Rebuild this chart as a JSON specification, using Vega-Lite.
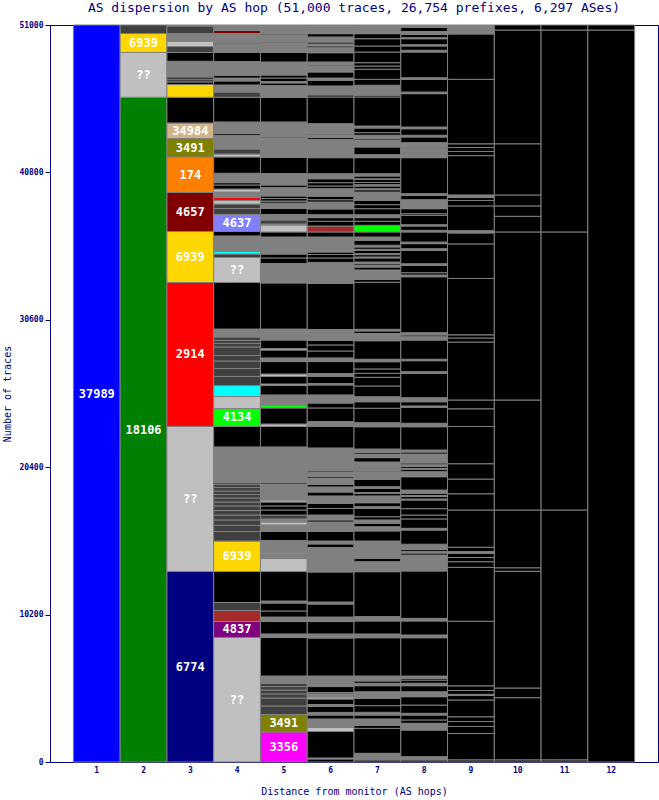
{
"$schema": "https://vega.github.io/schema/vega-lite/v6.json",
"width": 608, "height": 737,
"autosize": "none",
"padding": {"left": 50, "top": 25, "right": 1, "bottom": 38},
"background": "white",
"title": {"text": "AS dispersion by AS hop (51,000 traces, 26,754 prefixes, 6,297 ASes)", "font": "DejaVu Sans Mono", "fontSize": 13, "fontWeight": "normal", "color": "#000080", "anchor": "middle", "offset": 6},
"config": {"view": {"stroke": "#000080", "strokeWidth": 1, "fill": "white"}},
"data": {"values": [
{"h":1,"lo":0,"hi":51000,"as":"37989","lab":"37989"},
{"h":2,"lo":0,"hi":46000,"as":"18106","lab":"18106"},{"h":2,"lo":46000,"hi":49100,"as":"??","lab":"??"},{"h":2,"lo":49100,"hi":50410,"as":"6939","lab":"6939"},{"h":2,"lo":50410,"hi":51000,"as":"dk"},
{"h":3,"lo":0,"hi":13180,"as":"6774","lab":"6774"},{"h":3,"lo":13180,"hi":23220,"as":"??","lab":"??"},{"h":3,"lo":23220,"hi":33180,"as":"2914","lab":"2914"},{"h":3,"lo":33180,"hi":36710,"as":"6939","lab":"6939"},{"h":3,"lo":36710,"hi":39410,"as":"4657","lab":"4657"},{"h":3,"lo":39410,"hi":41870,"as":"174","lab":"174"},{"h":3,"lo":41870,"hi":43150,"as":"3491","lab":"3491"},{"h":3,"lo":43150,"hi":44220,"as":"34984","lab":"34984"},{"h":3,"lo":44220,"hi":46000,"as":"other"},{"h":3,"lo":46000,"hi":46880,"as":"6939"},{"h":3,"lo":46880,"hi":47060,"as":"other"},{"h":3,"lo":47060,"hi":47260,"as":"dk"},{"h":3,"lo":47260,"hi":47400,"as":"other"},{"h":3,"lo":47400,"hi":48490,"as":"many"},{"h":3,"lo":48490,"hi":49100,"as":"other"},{"h":3,"lo":49100,"hi":49510,"as":"dk"},{"h":3,"lo":49510,"hi":49860,"as":"??"},{"h":3,"lo":49860,"hi":50410,"as":"many"},{"h":3,"lo":50410,"hi":50930,"as":"dk"},{"h":3,"lo":50930,"hi":51000,"as":"many"},
{"h":4,"lo":0,"hi":8620,"as":"??","lab":"??"},{"h":4,"lo":8620,"hi":9720,"as":"4837","lab":"4837"},{"h":4,"lo":9720,"hi":10480,"as":"brown"},{"h":4,"lo":10480,"hi":11040,"as":"dk"},{"h":4,"lo":11040,"hi":13180,"as":"other"},{"h":4,"lo":13180,"hi":15290,"as":"6939","lab":"6939"},{"h":4,"lo":15290,"hi":15950,"as":"dk"},{"h":4,"lo":15950,"hi":16370,"as":"dk"},{"h":4,"lo":16370,"hi":16750,"as":"dk"},{"h":4,"lo":16750,"hi":17090,"as":"dk"},{"h":4,"lo":17090,"hi":17400,"as":"dk"},{"h":4,"lo":17400,"hi":17720,"as":"dk"},{"h":4,"lo":17720,"hi":17990,"as":"dk"},{"h":4,"lo":17990,"hi":18270,"as":"dk"},{"h":4,"lo":18270,"hi":18510,"as":"dk"},{"h":4,"lo":18510,"hi":18750,"as":"dk"},{"h":4,"lo":18750,"hi":19000,"as":"dk"},{"h":4,"lo":19000,"hi":19200,"as":"dk"},{"h":4,"lo":19200,"hi":19330,"as":"dk"},{"h":4,"lo":19330,"hi":21800,"as":"many"},{"h":4,"lo":21800,"hi":23220,"as":"other"},{"h":4,"lo":23220,"hi":24460,"as":"4134","lab":"4134"},{"h":4,"lo":24460,"hi":25290,"as":"??"},{"h":4,"lo":25290,"hi":26050,"as":"cyan"},{"h":4,"lo":26050,"hi":26680,"as":"dk"},{"h":4,"lo":26680,"hi":27230,"as":"dk"},{"h":4,"lo":27230,"hi":27750,"as":"dk"},{"h":4,"lo":27750,"hi":28130,"as":"dk"},{"h":4,"lo":28130,"hi":28720,"as":"dk"},{"h":4,"lo":28720,"hi":28960,"as":"dk"},{"h":4,"lo":28960,"hi":29170,"as":"dk"},{"h":4,"lo":29170,"hi":29410,"as":"dk"},{"h":4,"lo":29410,"hi":29960,"as":"many"},{"h":4,"lo":29960,"hi":33180,"as":"other"},{"h":4,"lo":33180,"hi":34910,"as":"??","lab":"??"},{"h":4,"lo":34910,"hi":35150,"as":"dk"},{"h":4,"lo":35150,"hi":35330,"as":"cyan"},{"h":4,"lo":35330,"hi":36400,"as":"many"},{"h":4,"lo":36400,"hi":36710,"as":"other"},{"h":4,"lo":36710,"hi":37890,"as":"4637","lab":"4637"},{"h":4,"lo":37890,"hi":38300,"as":"dk"},{"h":4,"lo":38300,"hi":38610,"as":"dk"},{"h":4,"lo":38610,"hi":38860,"as":"??"},{"h":4,"lo":38860,"hi":39060,"as":"2914"},{"h":4,"lo":39060,"hi":39440,"as":"many"},{"h":4,"lo":39440,"hi":39650,"as":"??"},{"h":4,"lo":39650,"hi":39930,"as":"other"},{"h":4,"lo":39930,"hi":40090,"as":"other"},{"h":4,"lo":40090,"hi":40740,"as":"many"},{"h":4,"lo":40740,"hi":41870,"as":"other"},{"h":4,"lo":41870,"hi":42070,"as":"??"},{"h":4,"lo":42070,"hi":42420,"as":"dk"},{"h":4,"lo":42420,"hi":43350,"as":"many"},{"h":4,"lo":43350,"hi":43480,"as":"other"},{"h":4,"lo":43480,"hi":44290,"as":"many"},{"h":4,"lo":44290,"hi":46000,"as":"other"},{"h":4,"lo":46000,"hi":46360,"as":"dk"},{"h":4,"lo":46360,"hi":46850,"as":"many"},{"h":4,"lo":46850,"hi":47130,"as":"other"},{"h":4,"lo":47130,"hi":47330,"as":"many"},{"h":4,"lo":47330,"hi":47520,"as":"other"},{"h":4,"lo":47520,"hi":48470,"as":"many"},{"h":4,"lo":48470,"hi":49100,"as":"other"},{"h":4,"lo":49100,"hi":49710,"as":"many"},{"h":4,"lo":49710,"hi":49790,"as":"other"},{"h":4,"lo":49790,"hi":50410,"as":"many"},{"h":4,"lo":50410,"hi":50620,"as":"4657"},{"h":4,"lo":50620,"hi":51000,"as":"many"},
{"h":5,"lo":0,"hi":2080,"as":"3356","lab":"3356"},{"h":5,"lo":2080,"hi":3290,"as":"3491","lab":"3491"},{"h":5,"lo":3290,"hi":3880,"as":"dk"},{"h":5,"lo":3880,"hi":4430,"as":"dk"},{"h":5,"lo":4430,"hi":4710,"as":"dk"},{"h":5,"lo":4710,"hi":4980,"as":"dk"},{"h":5,"lo":4980,"hi":5220,"as":"dk"},{"h":5,"lo":5220,"hi":5450,"as":"dk"},{"h":5,"lo":5450,"hi":5950,"as":"many"},{"h":5,"lo":5950,"hi":8620,"as":"other"},{"h":5,"lo":8620,"hi":8860,"as":"many"},{"h":5,"lo":8860,"hi":9720,"as":"other"},{"h":5,"lo":9720,"hi":10030,"as":"many"},{"h":5,"lo":10030,"hi":10450,"as":"other"},{"h":5,"lo":10450,"hi":11000,"as":"other"},{"h":5,"lo":11000,"hi":11140,"as":"many"},{"h":5,"lo":11140,"hi":13180,"as":"other"},{"h":5,"lo":13180,"hi":14080,"as":"??"},{"h":5,"lo":14080,"hi":14390,"as":"many"},{"h":5,"lo":14390,"hi":14500,"as":"4637"},{"h":5,"lo":14500,"hi":15330,"as":"many"},{"h":5,"lo":15330,"hi":15950,"as":"other"},{"h":5,"lo":15950,"hi":16400,"as":"many"},{"h":5,"lo":16400,"hi":16610,"as":"??"},{"h":5,"lo":16610,"hi":16820,"as":"many"},{"h":5,"lo":16820,"hi":17090,"as":"dk"},{"h":5,"lo":17090,"hi":17440,"as":"other"},{"h":5,"lo":17440,"hi":17720,"as":"other"},{"h":5,"lo":17720,"hi":17990,"as":"other"},{"h":5,"lo":17990,"hi":18130,"as":"??"},{"h":5,"lo":18130,"hi":19240,"as":"many"},{"h":5,"lo":19240,"hi":19340,"as":"other"},{"h":5,"lo":19340,"hi":21800,"as":"many"},{"h":5,"lo":21800,"hi":23220,"as":"other"},{"h":5,"lo":23220,"hi":23390,"as":"??"},{"h":5,"lo":23390,"hi":24500,"as":"other"},{"h":5,"lo":24500,"hi":24700,"as":"4134"},{"h":5,"lo":24700,"hi":25400,"as":"many"},{"h":5,"lo":25400,"hi":26050,"as":"other"},{"h":5,"lo":26050,"hi":26160,"as":"??"},{"h":5,"lo":26160,"hi":26680,"as":"other"},{"h":5,"lo":26680,"hi":26850,"as":"??"},{"h":5,"lo":26850,"hi":27710,"as":"other"},{"h":5,"lo":27710,"hi":27960,"as":"many"},{"h":5,"lo":27960,"hi":28510,"as":"other"},{"h":5,"lo":28510,"hi":28610,"as":"??"},{"h":5,"lo":28610,"hi":29200,"as":"other"},{"h":5,"lo":29200,"hi":29960,"as":"many"},{"h":5,"lo":29960,"hi":33150,"as":"other"},{"h":5,"lo":33150,"hi":34500,"as":"many"},{"h":5,"lo":34500,"hi":34880,"as":"other"},{"h":5,"lo":34880,"hi":35150,"as":"other"},{"h":5,"lo":35150,"hi":36330,"as":"many"},{"h":5,"lo":36330,"hi":36680,"as":"other"},{"h":5,"lo":36680,"hi":37160,"as":"??"},{"h":5,"lo":37160,"hi":37230,"as":"many"},{"h":5,"lo":37230,"hi":37510,"as":"dk"},{"h":5,"lo":37510,"hi":37890,"as":"many"},{"h":5,"lo":37890,"hi":38300,"as":"other"},{"h":5,"lo":38300,"hi":38630,"as":"many"},{"h":5,"lo":38630,"hi":38820,"as":"dk"},{"h":5,"lo":38820,"hi":38990,"as":"other"},{"h":5,"lo":38990,"hi":39170,"as":"other"},{"h":5,"lo":39170,"hi":39760,"as":"many"},{"h":5,"lo":39760,"hi":39930,"as":"other"},{"h":5,"lo":39930,"hi":40720,"as":"many"},{"h":5,"lo":40720,"hi":41830,"as":"other"},{"h":5,"lo":41830,"hi":43180,"as":"many"},{"h":5,"lo":43180,"hi":43250,"as":"other"},{"h":5,"lo":43250,"hi":44290,"as":"many"},{"h":5,"lo":44290,"hi":46000,"as":"other"},{"h":5,"lo":46000,"hi":46810,"as":"many"},{"h":5,"lo":46810,"hi":46990,"as":"other"},{"h":5,"lo":46990,"hi":47090,"as":"many"},{"h":5,"lo":47090,"hi":47330,"as":"other"},{"h":5,"lo":47330,"hi":47540,"as":"other"},{"h":5,"lo":47540,"hi":48440,"as":"many"},{"h":5,"lo":48440,"hi":49100,"as":"other"},{"h":5,"lo":49100,"hi":49440,"as":"many"},{"h":5,"lo":49440,"hi":49510,"as":"other"},{"h":5,"lo":49510,"hi":49760,"as":"many"},{"h":5,"lo":49760,"hi":49820,"as":"other"},{"h":5,"lo":49820,"hi":50310,"as":"many"},{"h":5,"lo":50310,"hi":50380,"as":"other"},{"h":5,"lo":50380,"hi":50690,"as":"many"},{"h":5,"lo":50690,"hi":50760,"as":"??"},{"h":5,"lo":50760,"hi":51000,"as":"many"},
{"h":6,"lo":0,"hi":210,"as":"other"},{"h":6,"lo":210,"hi":280,"as":"??"},{"h":6,"lo":280,"hi":2110,"as":"other"},{"h":6,"lo":2110,"hi":2390,"as":"??"},{"h":6,"lo":2390,"hi":2980,"as":"many"},{"h":6,"lo":2980,"hi":3250,"as":"other"},{"h":6,"lo":3250,"hi":3430,"as":"many"},{"h":6,"lo":3430,"hi":3840,"as":"other"},{"h":6,"lo":3840,"hi":3980,"as":"many"},{"h":6,"lo":3980,"hi":4360,"as":"other"},{"h":6,"lo":4360,"hi":4500,"as":"??"},{"h":6,"lo":4500,"hi":4670,"as":"many"},{"h":6,"lo":4670,"hi":4810,"as":"3356"},{"h":6,"lo":4810,"hi":5220,"as":"other"},{"h":6,"lo":5220,"hi":5950,"as":"many"},{"h":6,"lo":5950,"hi":8580,"as":"other"},{"h":6,"lo":8580,"hi":8860,"as":"many"},{"h":6,"lo":8860,"hi":9720,"as":"other"},{"h":6,"lo":9720,"hi":10030,"as":"many"},{"h":6,"lo":10030,"hi":10930,"as":"other"},{"h":6,"lo":10930,"hi":11070,"as":"many"},{"h":6,"lo":11070,"hi":13150,"as":"other"},{"h":6,"lo":13150,"hi":14840,"as":"many"},{"h":6,"lo":14840,"hi":15090,"as":"other"},{"h":6,"lo":15090,"hi":15290,"as":"many"},{"h":6,"lo":15290,"hi":15950,"as":"other"},{"h":6,"lo":15950,"hi":16610,"as":"many"},{"h":6,"lo":16610,"hi":16750,"as":"other"},{"h":6,"lo":16750,"hi":17090,"as":"many"},{"h":6,"lo":17090,"hi":17540,"as":"other"},{"h":6,"lo":17540,"hi":17890,"as":"other"},{"h":6,"lo":17890,"hi":18410,"as":"many"},{"h":6,"lo":18410,"hi":18680,"as":"other"},{"h":6,"lo":18680,"hi":19030,"as":"many"},{"h":6,"lo":19030,"hi":19200,"as":"other"},{"h":6,"lo":19200,"hi":19650,"as":"many"},{"h":6,"lo":19650,"hi":19760,"as":"other"},{"h":6,"lo":19760,"hi":20030,"as":"many"},{"h":6,"lo":20030,"hi":20140,"as":"other"},{"h":6,"lo":20140,"hi":21730,"as":"many"},{"h":6,"lo":21730,"hi":23220,"as":"other"},{"h":6,"lo":23220,"hi":23560,"as":"many"},{"h":6,"lo":23560,"hi":24500,"as":"other"},{"h":6,"lo":24500,"hi":24840,"as":"other"},{"h":6,"lo":24840,"hi":25400,"as":"many"},{"h":6,"lo":25400,"hi":26090,"as":"other"},{"h":6,"lo":26090,"hi":26190,"as":"many"},{"h":6,"lo":26190,"hi":26680,"as":"other"},{"h":6,"lo":26680,"hi":26880,"as":"many"},{"h":6,"lo":26880,"hi":27710,"as":"other"},{"h":6,"lo":27710,"hi":27960,"as":"many"},{"h":6,"lo":27960,"hi":28440,"as":"other"},{"h":6,"lo":28440,"hi":28860,"as":"other"},{"h":6,"lo":28860,"hi":29170,"as":"other"},{"h":6,"lo":29170,"hi":29930,"as":"many"},{"h":6,"lo":29930,"hi":33110,"as":"other"},{"h":6,"lo":33110,"hi":34570,"as":"many"},{"h":6,"lo":34570,"hi":34880,"as":"other"},{"h":6,"lo":34880,"hi":35120,"as":"other"},{"h":6,"lo":35120,"hi":35290,"as":"other"},{"h":6,"lo":35290,"hi":36330,"as":"many"},{"h":6,"lo":36330,"hi":36680,"as":"other"},{"h":6,"lo":36680,"hi":37090,"as":"brown"},{"h":6,"lo":37090,"hi":37420,"as":"other"},{"h":6,"lo":37420,"hi":37670,"as":"other"},{"h":6,"lo":37670,"hi":37870,"as":"many"},{"h":6,"lo":37870,"hi":38270,"as":"other"},{"h":6,"lo":38270,"hi":38750,"as":"many"},{"h":6,"lo":38750,"hi":38910,"as":"other"},{"h":6,"lo":38910,"hi":39150,"as":"other"},{"h":6,"lo":39150,"hi":39670,"as":"many"},{"h":6,"lo":39670,"hi":39860,"as":"other"},{"h":6,"lo":39860,"hi":40090,"as":"other"},{"h":6,"lo":40090,"hi":40360,"as":"other"},{"h":6,"lo":40360,"hi":40710,"as":"many"},{"h":6,"lo":40710,"hi":41820,"as":"other"},{"h":6,"lo":41820,"hi":43090,"as":"many"},{"h":6,"lo":43090,"hi":43230,"as":"other"},{"h":6,"lo":43230,"hi":43410,"as":"many"},{"h":6,"lo":43410,"hi":43480,"as":"other"},{"h":6,"lo":43480,"hi":44170,"as":"many"},{"h":6,"lo":44170,"hi":46020,"as":"other"},{"h":6,"lo":46020,"hi":46160,"as":"other"},{"h":6,"lo":46160,"hi":46780,"as":"many"},{"h":6,"lo":46780,"hi":47170,"as":"other"},{"h":6,"lo":47170,"hi":47330,"as":"many"},{"h":6,"lo":47330,"hi":47750,"as":"other"},{"h":6,"lo":47750,"hi":48160,"as":"many"},{"h":6,"lo":48160,"hi":48230,"as":"other"},{"h":6,"lo":48230,"hi":48440,"as":"many"},{"h":6,"lo":48440,"hi":49080,"as":"other"},{"h":6,"lo":49080,"hi":49430,"as":"many"},{"h":6,"lo":49430,"hi":49550,"as":"other"},{"h":6,"lo":49550,"hi":49690,"as":"many"},{"h":6,"lo":49690,"hi":49820,"as":"other"},{"h":6,"lo":49820,"hi":50170,"as":"many"},{"h":6,"lo":50170,"hi":50400,"as":"other"},{"h":6,"lo":50400,"hi":50680,"as":"many"},{"h":6,"lo":50680,"hi":50740,"as":"4837"},{"h":6,"lo":50740,"hi":51000,"as":"many"},
{"h":7,"lo":0,"hi":140,"as":"other"},{"h":7,"lo":140,"hi":600,"as":"many"},{"h":7,"lo":600,"hi":2330,"as":"other"},{"h":7,"lo":2330,"hi":2530,"as":"other"},{"h":7,"lo":2530,"hi":2980,"as":"many"},{"h":7,"lo":2980,"hi":3250,"as":"other"},{"h":7,"lo":3250,"hi":3440,"as":"many"},{"h":7,"lo":3440,"hi":3900,"as":"other"},{"h":7,"lo":3900,"hi":4410,"as":"other"},{"h":7,"lo":4410,"hi":4860,"as":"many"},{"h":7,"lo":4860,"hi":5280,"as":"other"},{"h":7,"lo":5280,"hi":5450,"as":"many"},{"h":7,"lo":5450,"hi":5610,"as":"other"},{"h":7,"lo":5610,"hi":5950,"as":"many"},{"h":7,"lo":5950,"hi":8600,"as":"other"},{"h":7,"lo":8600,"hi":8860,"as":"many"},{"h":7,"lo":8860,"hi":9760,"as":"other"},{"h":7,"lo":9760,"hi":10060,"as":"many"},{"h":7,"lo":10060,"hi":13170,"as":"other"},{"h":7,"lo":13170,"hi":13860,"as":"many"},{"h":7,"lo":13860,"hi":14100,"as":"other"},{"h":7,"lo":14100,"hi":15290,"as":"many"},{"h":7,"lo":15290,"hi":15990,"as":"other"},{"h":7,"lo":15990,"hi":16280,"as":"many"},{"h":7,"lo":16280,"hi":16520,"as":"other"},{"h":7,"lo":16520,"hi":16750,"as":"many"},{"h":7,"lo":16750,"hi":16970,"as":"other"},{"h":7,"lo":16970,"hi":17560,"as":"other"},{"h":7,"lo":17560,"hi":17670,"as":"many"},{"h":7,"lo":17670,"hi":17940,"as":"other"},{"h":7,"lo":17940,"hi":18410,"as":"many"},{"h":7,"lo":18410,"hi":18590,"as":"other"},{"h":7,"lo":18590,"hi":18640,"as":"many"},{"h":7,"lo":18640,"hi":18940,"as":"other"},{"h":7,"lo":18940,"hi":19050,"as":"many"},{"h":7,"lo":19050,"hi":19560,"as":"other"},{"h":7,"lo":19560,"hi":20090,"as":"many"},{"h":7,"lo":20090,"hi":20160,"as":"other"},{"h":7,"lo":20160,"hi":20330,"as":"many"},{"h":7,"lo":20330,"hi":20400,"as":"other"},{"h":7,"lo":20400,"hi":20760,"as":"many"},{"h":7,"lo":20760,"hi":21060,"as":"other"},{"h":7,"lo":21060,"hi":21310,"as":"many"},{"h":7,"lo":21310,"hi":21430,"as":"other"},{"h":7,"lo":21430,"hi":21660,"as":"many"},{"h":7,"lo":21660,"hi":23200,"as":"other"},{"h":7,"lo":23200,"hi":23480,"as":"many"},{"h":7,"lo":23480,"hi":24480,"as":"other"},{"h":7,"lo":24480,"hi":24930,"as":"other"},{"h":7,"lo":24930,"hi":25280,"as":"many"},{"h":7,"lo":25280,"hi":26020,"as":"other"},{"h":7,"lo":26020,"hi":26620,"as":"other"},{"h":7,"lo":26620,"hi":26900,"as":"other"},{"h":7,"lo":26900,"hi":27200,"as":"other"},{"h":7,"lo":27200,"hi":27700,"as":"other"},{"h":7,"lo":27700,"hi":27870,"as":"many"},{"h":7,"lo":27870,"hi":29150,"as":"other"},{"h":7,"lo":29150,"hi":29650,"as":"many"},{"h":7,"lo":29650,"hi":29830,"as":"other"},{"h":7,"lo":29830,"hi":29940,"as":"many"},{"h":7,"lo":29940,"hi":33200,"as":"other"},{"h":7,"lo":33200,"hi":33400,"as":"other"},{"h":7,"lo":33400,"hi":34050,"as":"many"},{"h":7,"lo":34050,"hi":34250,"as":"other"},{"h":7,"lo":34250,"hi":34370,"as":"many"},{"h":7,"lo":34370,"hi":34480,"as":"other"},{"h":7,"lo":34480,"hi":34600,"as":"many"},{"h":7,"lo":34600,"hi":34880,"as":"other"},{"h":7,"lo":34880,"hi":34950,"as":"many"},{"h":7,"lo":34950,"hi":35110,"as":"other"},{"h":7,"lo":35110,"hi":35180,"as":"many"},{"h":7,"lo":35180,"hi":35410,"as":"other"},{"h":7,"lo":35410,"hi":35480,"as":"many"},{"h":7,"lo":35480,"hi":35640,"as":"other"},{"h":7,"lo":35640,"hi":35760,"as":"many"},{"h":7,"lo":35760,"hi":36100,"as":"other"},{"h":7,"lo":36100,"hi":36330,"as":"many"},{"h":7,"lo":36330,"hi":36680,"as":"other"},{"h":7,"lo":36680,"hi":37140,"as":"4134"},{"h":7,"lo":37140,"hi":37420,"as":"other"},{"h":7,"lo":37420,"hi":37670,"as":"other"},{"h":7,"lo":37670,"hi":37870,"as":"many"},{"h":7,"lo":37870,"hi":38290,"as":"other"},{"h":7,"lo":38290,"hi":38570,"as":"other"},{"h":7,"lo":38570,"hi":38870,"as":"other"},{"h":7,"lo":38870,"hi":39440,"as":"many"},{"h":7,"lo":39440,"hi":39600,"as":"other"},{"h":7,"lo":39600,"hi":39670,"as":"many"},{"h":7,"lo":39670,"hi":39860,"as":"other"},{"h":7,"lo":39860,"hi":39950,"as":"many"},{"h":7,"lo":39950,"hi":40110,"as":"other"},{"h":7,"lo":40110,"hi":40320,"as":"other"},{"h":7,"lo":40320,"hi":40360,"as":"many"},{"h":7,"lo":40360,"hi":40550,"as":"other"},{"h":7,"lo":40550,"hi":40710,"as":"many"},{"h":7,"lo":40710,"hi":41820,"as":"other"},{"h":7,"lo":41820,"hi":42030,"as":"many"},{"h":7,"lo":42030,"hi":42560,"as":"other"},{"h":7,"lo":42560,"hi":43050,"as":"many"},{"h":7,"lo":43050,"hi":43160,"as":"other"},{"h":7,"lo":43160,"hi":43370,"as":"many"},{"h":7,"lo":43370,"hi":43550,"as":"other"},{"h":7,"lo":43550,"hi":43870,"as":"other"},{"h":7,"lo":43870,"hi":44010,"as":"many"},{"h":7,"lo":44010,"hi":46020,"as":"other"},{"h":7,"lo":46020,"hi":46140,"as":"other"},{"h":7,"lo":46140,"hi":46830,"as":"many"},{"h":7,"lo":46830,"hi":47240,"as":"other"},{"h":7,"lo":47240,"hi":47940,"as":"other"},{"h":7,"lo":47940,"hi":48160,"as":"other"},{"h":7,"lo":48160,"hi":48390,"as":"other"},{"h":7,"lo":48390,"hi":49130,"as":"other"},{"h":7,"lo":49130,"hi":49550,"as":"other"},{"h":7,"lo":49550,"hi":50050,"as":"other"},{"h":7,"lo":50050,"hi":50400,"as":"other"},{"h":7,"lo":50400,"hi":51000,"as":"many"},
{"h":8,"lo":0,"hi":140,"as":"other"},{"h":8,"lo":140,"hi":370,"as":"many"},{"h":8,"lo":370,"hi":2210,"as":"other"},{"h":8,"lo":2210,"hi":2680,"as":"many"},{"h":8,"lo":2680,"hi":2910,"as":"other"},{"h":8,"lo":2910,"hi":3250,"as":"other"},{"h":8,"lo":3250,"hi":3370,"as":"many"},{"h":8,"lo":3370,"hi":3940,"as":"other"},{"h":8,"lo":3940,"hi":4520,"as":"other"},{"h":8,"lo":4520,"hi":4860,"as":"many"},{"h":8,"lo":4860,"hi":5280,"as":"other"},{"h":8,"lo":5280,"hi":5450,"as":"many"},{"h":8,"lo":5450,"hi":5670,"as":"other"},{"h":8,"lo":5670,"hi":5790,"as":"other"},{"h":8,"lo":5790,"hi":5950,"as":"many"},{"h":8,"lo":5950,"hi":8600,"as":"other"},{"h":8,"lo":8600,"hi":8790,"as":"many"},{"h":8,"lo":8790,"hi":9760,"as":"other"},{"h":8,"lo":9760,"hi":9940,"as":"many"},{"h":8,"lo":9940,"hi":13220,"as":"other"},{"h":8,"lo":13220,"hi":14320,"as":"many"},{"h":8,"lo":14320,"hi":14460,"as":"other"},{"h":8,"lo":14460,"hi":14570,"as":"many"},{"h":8,"lo":14570,"hi":14700,"as":"other"},{"h":8,"lo":14700,"hi":15070,"as":"many"},{"h":8,"lo":15070,"hi":16050,"as":"other"},{"h":8,"lo":16050,"hi":16170,"as":"many"},{"h":8,"lo":16170,"hi":16820,"as":"other"},{"h":8,"lo":16820,"hi":17090,"as":"other"},{"h":8,"lo":17090,"hi":17530,"as":"other"},{"h":8,"lo":17530,"hi":18130,"as":"other"},{"h":8,"lo":18130,"hi":18200,"as":"many"},{"h":8,"lo":18200,"hi":18370,"as":"other"},{"h":8,"lo":18370,"hi":18440,"as":"many"},{"h":8,"lo":18440,"hi":18580,"as":"other"},{"h":8,"lo":18580,"hi":18820,"as":"many"},{"h":8,"lo":18820,"hi":19740,"as":"other"},{"h":8,"lo":19740,"hi":20090,"as":"many"},{"h":8,"lo":20090,"hi":20260,"as":"other"},{"h":8,"lo":20260,"hi":20320,"as":"many"},{"h":8,"lo":20320,"hi":20460,"as":"other"},{"h":8,"lo":20460,"hi":20570,"as":"many"},{"h":8,"lo":20570,"hi":20690,"as":"other"},{"h":8,"lo":20690,"hi":21310,"as":"many"},{"h":8,"lo":21310,"hi":21450,"as":"other"},{"h":8,"lo":21450,"hi":21590,"as":"many"},{"h":8,"lo":21590,"hi":23200,"as":"other"},{"h":8,"lo":23200,"hi":23440,"as":"many"},{"h":8,"lo":23440,"hi":24550,"as":"other"},{"h":8,"lo":24550,"hi":24640,"as":"many"},{"h":8,"lo":24640,"hi":24930,"as":"other"},{"h":8,"lo":24930,"hi":25210,"as":"many"},{"h":8,"lo":25210,"hi":26900,"as":"other"},{"h":8,"lo":26900,"hi":27010,"as":"many"},{"h":8,"lo":27010,"hi":27770,"as":"other"},{"h":8,"lo":27770,"hi":27870,"as":"many"},{"h":8,"lo":27870,"hi":29200,"as":"other"},{"h":8,"lo":29200,"hi":29430,"as":"many"},{"h":8,"lo":29430,"hi":29550,"as":"other"},{"h":8,"lo":29550,"hi":29710,"as":"many"},{"h":8,"lo":29710,"hi":33580,"as":"other"},{"h":8,"lo":33580,"hi":33700,"as":"many"},{"h":8,"lo":33700,"hi":33860,"as":"other"},{"h":8,"lo":33860,"hi":34370,"as":"other"},{"h":8,"lo":34370,"hi":34480,"as":"many"},{"h":8,"lo":34480,"hi":35410,"as":"other"},{"h":8,"lo":35410,"hi":35520,"as":"many"},{"h":8,"lo":35520,"hi":35870,"as":"other"},{"h":8,"lo":35870,"hi":35980,"as":"many"},{"h":8,"lo":35980,"hi":36680,"as":"other"},{"h":8,"lo":36680,"hi":36790,"as":"many"},{"h":8,"lo":36790,"hi":37090,"as":"other"},{"h":8,"lo":37090,"hi":37180,"as":"many"},{"h":8,"lo":37180,"hi":37830,"as":"other"},{"h":8,"lo":37830,"hi":37940,"as":"other"},{"h":8,"lo":37940,"hi":38290,"as":"other"},{"h":8,"lo":38290,"hi":38910,"as":"many"},{"h":8,"lo":38910,"hi":39220,"as":"other"},{"h":8,"lo":39220,"hi":39330,"as":"many"},{"h":8,"lo":39330,"hi":41820,"as":"other"},{"h":8,"lo":41820,"hi":42120,"as":"many"},{"h":8,"lo":42120,"hi":42190,"as":"other"},{"h":8,"lo":42190,"hi":42470,"as":"many"},{"h":8,"lo":42470,"hi":42540,"as":"other"},{"h":8,"lo":42540,"hi":42860,"as":"many"},{"h":8,"lo":42860,"hi":43250,"as":"other"},{"h":8,"lo":43250,"hi":43370,"as":"many"},{"h":8,"lo":43370,"hi":43820,"as":"other"},{"h":8,"lo":43820,"hi":43940,"as":"many"},{"h":8,"lo":43940,"hi":46250,"as":"other"},{"h":8,"lo":46250,"hi":46360,"as":"many"},{"h":8,"lo":46360,"hi":47240,"as":"other"},{"h":8,"lo":47240,"hi":47350,"as":"many"},{"h":8,"lo":47350,"hi":49130,"as":"other"},{"h":8,"lo":49130,"hi":49250,"as":"many"},{"h":8,"lo":49250,"hi":49550,"as":"other"},{"h":8,"lo":49550,"hi":49640,"as":"many"},{"h":8,"lo":49640,"hi":50050,"as":"other"},{"h":8,"lo":50050,"hi":50120,"as":"many"},{"h":8,"lo":50120,"hi":50360,"as":"other"},{"h":8,"lo":50360,"hi":50550,"as":"many"},{"h":8,"lo":50550,"hi":50830,"as":"other"},{"h":8,"lo":50830,"hi":51000,"as":"many"},
{"h":9,"lo":0,"hi":150,"as":"other"},{"h":9,"lo":150,"hi":1970,"as":"other"},{"h":9,"lo":1970,"hi":2460,"as":"other"},{"h":9,"lo":2460,"hi":2800,"as":"other"},{"h":9,"lo":2800,"hi":3130,"as":"other"},{"h":9,"lo":3130,"hi":4290,"as":"other"},{"h":9,"lo":4290,"hi":4600,"as":"other"},{"h":9,"lo":4600,"hi":4680,"as":"many"},{"h":9,"lo":4680,"hi":4950,"as":"other"},{"h":9,"lo":4950,"hi":5270,"as":"other"},{"h":9,"lo":5270,"hi":9740,"as":"other"},{"h":9,"lo":9740,"hi":13470,"as":"other"},{"h":9,"lo":13470,"hi":13860,"as":"other"},{"h":9,"lo":13860,"hi":14150,"as":"other"},{"h":9,"lo":14150,"hi":14450,"as":"other"},{"h":9,"lo":14450,"hi":14560,"as":"many"},{"h":9,"lo":14560,"hi":14860,"as":"other"},{"h":9,"lo":14860,"hi":17440,"as":"other"},{"h":9,"lo":17440,"hi":18560,"as":"other"},{"h":9,"lo":18560,"hi":19580,"as":"other"},{"h":9,"lo":19580,"hi":20640,"as":"other"},{"h":9,"lo":20640,"hi":23220,"as":"other"},{"h":9,"lo":23220,"hi":24440,"as":"other"},{"h":9,"lo":24440,"hi":25050,"as":"other"},{"h":9,"lo":25050,"hi":29060,"as":"other"},{"h":9,"lo":29060,"hi":29340,"as":"other"},{"h":9,"lo":29340,"hi":29560,"as":"other"},{"h":9,"lo":29560,"hi":33460,"as":"other"},{"h":9,"lo":33460,"hi":35850,"as":"other"},{"h":9,"lo":35850,"hi":36610,"as":"other"},{"h":9,"lo":36610,"hi":36770,"as":"many"},{"h":9,"lo":36770,"hi":38480,"as":"other"},{"h":9,"lo":38480,"hi":38860,"as":"other"},{"h":9,"lo":38860,"hi":39060,"as":"other"},{"h":9,"lo":39060,"hi":39240,"as":"many"},{"h":9,"lo":39240,"hi":41960,"as":"other"},{"h":9,"lo":41960,"hi":42250,"as":"other"},{"h":9,"lo":42250,"hi":42520,"as":"other"},{"h":9,"lo":42520,"hi":42780,"as":"other"},{"h":9,"lo":42780,"hi":47240,"as":"other"},{"h":9,"lo":47240,"hi":50380,"as":"other"},{"h":9,"lo":50380,"hi":51000,"as":"many"},
{"h":10,"lo":0,"hi":150,"as":"other"},{"h":10,"lo":150,"hi":4450,"as":"other"},{"h":10,"lo":4450,"hi":5120,"as":"other"},{"h":10,"lo":5120,"hi":13200,"as":"other"},{"h":10,"lo":13200,"hi":13440,"as":"other"},{"h":10,"lo":13440,"hi":17440,"as":"other"},{"h":10,"lo":17440,"hi":25050,"as":"other"},{"h":10,"lo":25050,"hi":36680,"as":"other"},{"h":10,"lo":36680,"hi":37760,"as":"other"},{"h":10,"lo":37760,"hi":38480,"as":"other"},{"h":10,"lo":38480,"hi":39240,"as":"other"},{"h":10,"lo":39240,"hi":42780,"as":"other"},{"h":10,"lo":42780,"hi":50650,"as":"other"},{"h":10,"lo":50650,"hi":51000,"as":"other"},
{"h":11,"lo":0,"hi":150,"as":"other"},{"h":11,"lo":150,"hi":17440,"as":"other"},{"h":11,"lo":17440,"hi":36680,"as":"other"},{"h":11,"lo":36680,"hi":50650,"as":"other"},{"h":11,"lo":50650,"hi":51000,"as":"other"},
{"h":12,"lo":0,"hi":50650,"as":"other"},{"h":12,"lo":50650,"hi":51000,"as":"other"}
]},
"layer": [
{"mark": {"type": "bar", "stroke": "#808080", "strokeWidth": 1},
 "encoding": {
  "x": {"field": "h", "type": "ordinal", "scale": {"domain": [1,2,3,4,5,6,7,8,9,10,11,12], "paddingInner": 0, "paddingOuter": 0.5},
        "axis": {"title": "Distance from monitor (AS hops)", "labelAngle": 0, "ticks": false, "domain": false, "labelFont": "DejaVu Sans Mono", "labelFontSize": 8, "labelFontWeight": "bold", "labelColor": "#000080", "labelPadding": 4, "titleFont": "DejaVu Sans Mono", "titleFontSize": 10, "titleFontWeight": "normal", "titleColor": "#000080", "titlePadding": 12}},
  "y": {"field": "lo", "type": "quantitative", "scale": {"domain": [0, 51000], "nice": false},
        "axis": {"values": [0,10200,20400,30600,40800,51000], "format": "d", "title": "Number of traces", "grid": false, "domain": false, "tickColor": "#000080", "tickSize": 5, "labelFlush": false, "labelFont": "DejaVu Sans Mono", "labelFontSize": 8, "labelFontWeight": "bold", "labelColor": "#000080", "labelPadding": 2, "titleFont": "DejaVu Sans Mono", "titleFontSize": 10, "titleFontWeight": "normal", "titleColor": "#000080", "titlePadding": 6}},
  "y2": {"field": "hi"},
  "color": {"field": "as", "type": "nominal", "legend": null,
   "scale": {"domain": ["37989","18106","6939","??","34984","3491","174","4657","4637","2914","4134","6774","4837","3356","brown","cyan","dk","many","other"],
             "range": ["#0000ff","#008000","#ffd700","#c0c0c0","#d2b48c","#808000","#ff8000","#800000","#8080ff","#ff0000","#00ff00","#000080","#800080","#ff00ff","#a52a2a","#00ffff","#404040","#808080","#000000"]}}
 }},
{"transform": [{"filter": "datum.lab != null"}, {"calculate": "(datum.lo + datum.hi) / 2", "as": "mid"}],
 "mark": {"type": "text", "font": "DejaVu Sans Mono", "fontWeight": "bold", "fontSize": 12, "color": "white", "baseline": "middle", "align": "center"},
 "encoding": {
  "x": {"field": "h", "type": "ordinal"},
  "y": {"field": "mid", "type": "quantitative"},
  "text": {"field": "lab"}
 }}
]
}
